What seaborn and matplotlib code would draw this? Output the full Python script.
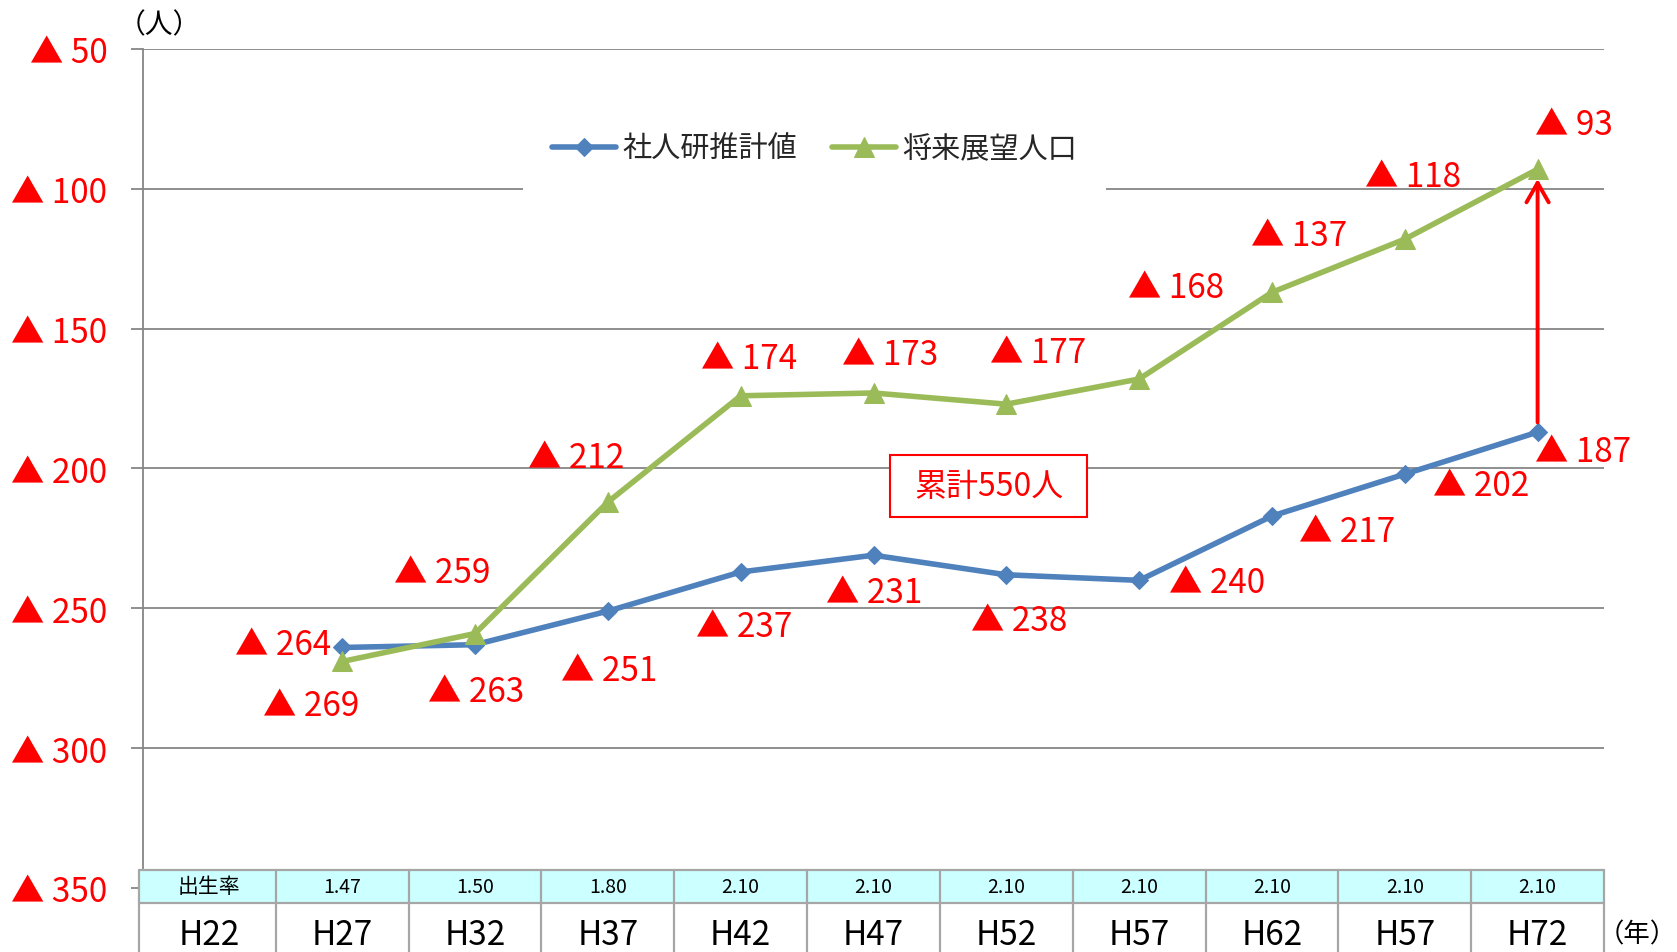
import numpy as np
import pandas as pd
import matplotlib
matplotlib.use("Agg")
import matplotlib.pyplot as plt
import matplotlib.transforms as mtransforms
from matplotlib.patches import Rectangle
from matplotlib.lines import Line2D
import seaborn as sns

# ---- data -------------------------------------------------------------
years = ["H22", "H27", "H32", "H37", "H42", "H47", "H52", "H57", "H62", "H57", "H72"]
birth_rates = ["出生率", "1.47", "1.50", "1.80", "2.10", "2.10", "2.10",
               "2.10", "2.10", "2.10", "2.10"]
# values for H27 .. H72 (natural decrease, persons)
ipss_estimate = [264, 263, 251, 237, 231, 238, 240, 217, 202, 187]   # 社人研推計値
future_outlook = [269, 259, 212, 174, 173, 177, 168, 137, 118, 93]   # 将来展望人口
y_ticks = [50, 100, 150, 200, 250, 300, 350]
series_names = ["社人研推計値", "将来展望人口"]
cumulative_label = "累計550人"

# ---- style ------------------------------------------------------------
sns.set_theme(style="white")
plt.rcParams["font.family"] = ["Noto Sans CJK JP", "DejaVu Sans"]

BLUE = "#4F81BD"
GREEN = "#9BBB59"
GRID = "#868686"
RED = "#FF0000"

W, H = 1677, 953
fig = plt.figure(figsize=(W / 100, H / 100), dpi=100)
ax = fig.add_axes([143 / W, 1 - 889 / H, (1604 - 143) / W, (889 - 50) / H])

positions = list(range(1, len(years)))
df = pd.DataFrame({"pos": positions, "ipss": ipss_estimate, "future": future_outlook})

sns.lineplot(data=df, x="pos", y="ipss", ax=ax, color=BLUE, linewidth=4.0,
             marker="D", markersize=9.5, markeredgecolor=BLUE,
             label=series_names[0], zorder=3)
sns.lineplot(data=df, x="pos", y="future", ax=ax, color=GREEN, linewidth=4.0,
             marker="^", markersize=15, markeredgecolor=GREEN,
             label=series_names[1], zorder=3)

ax.set_xlim(-0.5, len(years) - 0.5)
ax.set_ylim(max(y_ticks), min(y_ticks))
ax.set_xticks([])
ax.set_xlabel("")
ax.set_ylabel("")
ax.set_yticks(y_ticks)
ax.set_yticklabels([f"▲ {t}" for t in y_ticks])
ax.tick_params(axis="y", left=True, length=8.6, width=1.3, color=GRID, pad=17,
               labelsize=24, labelcolor=RED)
ax.yaxis.grid(True, color=GRID, linewidth=1.3)
ax.xaxis.grid(False)
for side in ["top", "right", "bottom"]:
    ax.spines[side].set_visible(False)
ax.spines["left"].set_color(GRID)
ax.spines["left"].set_linewidth(1.3)

# ---- value labels ------------------------------------------------------
blue_offsets = [(-107, 3), (-47, -47), (-47, -59), (-45, -55), (-48, -37),
                (-35, -46), (30, -2), (27, -15), (28, -11), (-3, -19)]
green_offsets = [(-79, -44), (-81, 61), (-80, 45), (-40, 37), (-32, 38),
                 (-16, 52), (-11, 92), (-21, 57), (-40, 63), (-3, 45)]
for p, v, (dx, dy) in zip(positions, ipss_estimate, blue_offsets):
    ax.annotate(f"▲ {v}", xy=(p, v), xytext=(dx, dy), textcoords="offset pixels",
                ha="left", va="center", color=RED, fontsize=24, zorder=4)
for p, v, (dx, dy) in zip(positions, future_outlook, green_offsets):
    ax.annotate(f"▲ {v}", xy=(p, v), xytext=(dx, dy), textcoords="offset pixels",
                ha="left", va="center", color=RED, fontsize=24, zorder=4)

# gap arrow between the two projections in the final year
ax.annotate("", xy=(positions[-1], future_outlook[-1]),
            xytext=(positions[-1], ipss_estimate[-1]),
            arrowprops=dict(arrowstyle="->,head_length=0.7,head_width=0.4",
                            color=RED, lw=2.8, shrinkA=7, shrinkB=7,
                            mutation_scale=20), zorder=4)

# cumulative box
bx0, bx1 = (890 - 143) / 1461, (1087 - 143) / 1461
by0, by1 = 1 - (518 - 50) / 839, 1 - (456 - 50) / 839
ax.add_patch(Rectangle((bx0, by0), bx1 - bx0, by1 - by0, transform=ax.transAxes,
                       facecolor="white", edgecolor=RED, linewidth=1.5, zorder=4))
ax.text((bx0 + bx1) / 2, (by0 + by1) / 2, cumulative_label, transform=ax.transAxes,
        ha="center", va="center", color=RED, fontsize=23, zorder=5)

# ---- legend ------------------------------------------------------------
handles, labels = ax.get_legend_handles_labels()
ax.legend(handles, labels, ncol=2, loc="center",
          bbox_to_anchor=((524 + 1105) / 2 / W, 1 - 150 / H),
          bbox_transform=fig.transFigure, frameon=True, fancybox=False,
          facecolor="white", edgecolor="none", framealpha=1, fontsize=21,
          handlelength=2.2, handletextpad=0.2, columnspacing=1.2, borderpad=1.0)

# ---- data table under the axis ----------------------------------------
blend = mtransforms.blended_transform_factory(ax.transData, fig.transFigure)
t_top, t_mid, t_bot = 1 - 871 / H, 1 - 904 / H, -0.02
x0, x1 = -0.5 - 4 / 132.8, len(years) - 0.5
TABLE_EDGE = "#A6A6A6"
ax.add_patch(Rectangle((x0, t_mid), x1 - x0, t_top - t_mid, transform=blend,
                       facecolor="#CCFFFF", edgecolor="none", clip_on=False, zorder=6))
ax.add_patch(Rectangle((x0, t_bot), x1 - x0, t_mid - t_bot, transform=blend,
                       facecolor="white", edgecolor="none", clip_on=False, zorder=6))
for yy in [t_top, t_mid]:
    ax.add_line(Line2D([x0, x1], [yy, yy], transform=blend, color=TABLE_EDGE,
                       lw=1.6, clip_on=False, zorder=7))
edges = [x0] + [k - 0.5 for k in range(1, len(years))] + [x1]
for xe in edges:
    ax.add_line(Line2D([xe, xe], [t_bot, t_top], transform=blend, color=TABLE_EDGE,
                       lw=1.6, clip_on=False, zorder=7))
rate_y = (t_top + t_mid) / 2
for k, (yr, rt) in enumerate(zip(years, birth_rates)):
    ax.text(k, rate_y, rt, transform=blend, ha="center", va="center",
            fontsize=15 if k == 0 else 14, color="black", zorder=8)
    ax.text(k, 1 - 936 / H, yr, transform=blend, ha="center", va="center",
            fontsize=24, color="black", zorder=8)

fig.text(118 / W, 1 - 25 / H, "（人）", ha="left", va="center", fontsize=20, color="black")
fig.text(1677 / W, 1 - 935 / H, "（年）", ha="right", va="center", fontsize=19, color="black")

fig.savefig("out.png", dpi=100)
